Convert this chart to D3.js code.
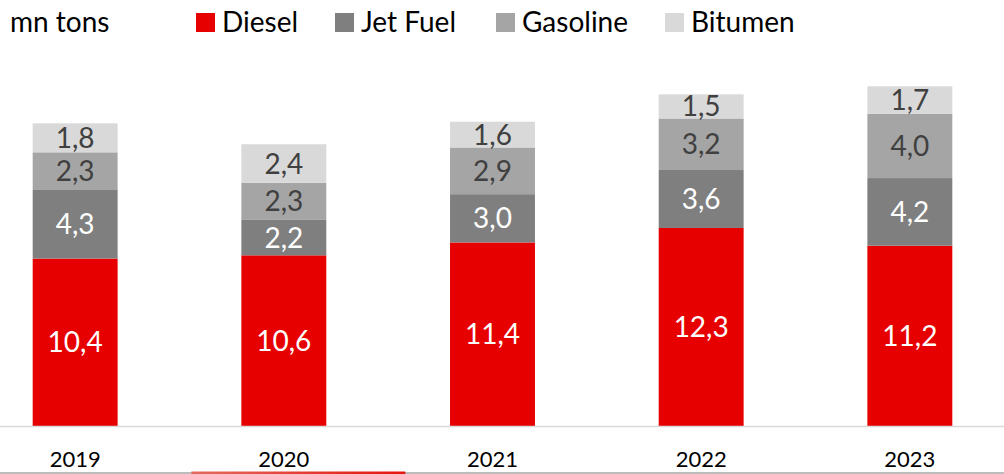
<!DOCTYPE html>
<html>
<head>
<meta charset="utf-8">
<script src="https://cdn.jsdelivr.net/npm/d3@7"></script>
<style>
  body { margin: 0; background: #fff; }
  svg text { font-family: Lato, "Open Sans", sans-serif; }
</style>
</head>
<body>
<div id="chart"></div>
<script>
// chart values
var years = ["2019", "2020", "2021", "2022", "2023"];
var products = ["Diesel", "Jet Fuel", "Gasoline", "Bitumen"];
var diesel   = [10.4, 10.6, 11.4, 12.3, 11.2];
var jetFuel  = [4.3, 2.2, 3.0, 3.6, 4.2];
var gasoline = [2.3, 2.3, 2.9, 3.2, 4.0];
var bitumen  = [1.8, 2.4, 1.6, 1.5, 1.7];
var unitLabel = "mn tons";

var colors = ["#e60000", "#7f7f7f", "#a5a5a5", "#d9d9d9"];
var labelColors = ["#ffffff", "#ffffff", "#404040", "#404040"];

var width = 1004, height = 474;
var baseline = 426;

// build rows for stacking
var rows = years.map(function(y, i) {
    return { year: y, "Diesel": diesel[i], "Jet Fuel": jetFuel[i],
             "Gasoline": gasoline[i], "Bitumen": bitumen[i] };
});
var series = d3.stack().keys(products)(rows);

var svg = d3.select("#chart")
  .append("svg")
    .attr("width", width)
    .attr("height", height);

var x = d3.scaleBand()
    .domain(years)
    .range([-8, 993])
    .paddingInner(0.593)
    .paddingOuter(0.195);

var y = d3.scaleLinear()
    .domain([0, 20])
    .range([baseline, baseline - 322]);

var fmt = function(v) { return d3.format(".1f")(v).replace(".", ","); };

// bars
var groups = svg.selectAll("g.layer")
  .data(series)
  .enter()
  .append("g")
    .attr("class", "layer")
    .attr("fill", function(d, i) { return colors[i]; });

groups.selectAll("rect")
  .data(function(d) { return d; })
  .enter()
  .append("rect")
    .attr("x", function(d) { return x(d.data.year); })
    .attr("y", function(d) { return y(d[1]); })
    .attr("width", x.bandwidth())
    .attr("height", function(d) { return y(d[0]) - y(d[1]); });

// value labels
series.forEach(function(s, i) {
    svg.append("g").selectAll("text")
      .data(s)
      .enter()
      .append("text")
        .attr("x", function(d) { return x(d.data.year) + x.bandwidth() / 2; })
        .attr("y", function(d) { return (y(d[0]) + y(d[1])) / 2; })
        .attr("dy", "0.36em")
        .attr("text-anchor", "middle")
        .attr("font-size", 28)
        .attr("fill", labelColors[i])
        .text(function(d) { return fmt(d[1] - d[0]); });
});

// baseline
svg.append("line")
    .attr("x1", 0).attr("x2", width)
    .attr("y1", baseline + 0.5).attr("y2", baseline + 0.5)
    .style("stroke", "#d9d9d9")
    .style("stroke-width", 1.5);

// x axis labels
var xAxis = svg.append("g")
    .attr("transform", "translate(0," + 451 + ")")
    .call(d3.axisBottom(x).tickSize(0).tickPadding(0));
xAxis.select(".domain").remove();
xAxis.selectAll("text")
    .attr("font-size", 22)
    .attr("fill", "#000")
    .attr("dy", "0.72em");

// bottom rule with red accent under 2020
svg.append("line")
    .attr("x1", 0).attr("x2", width)
    .attr("y1", 473).attr("y2", 473)
    .style("stroke", "#a6a6a6")
    .style("stroke-width", 1.5);

var grad = svg.append("defs").append("linearGradient")
    .attr("id", "accent");
grad.append("stop").attr("offset", "0%").attr("stop-color", "#e36b5f");
grad.append("stop").attr("offset", "100%").attr("stop-color", "#e4160d");
svg.append("rect")
    .attr("x", x("2020") - 50)
    .attr("y", 471.5)
    .attr("width", 214)
    .attr("height", 3)
    .attr("fill", "url(#accent)");

// unit label
svg.append("text")
    .attr("x", 10)
    .attr("y", 32)
    .attr("font-size", 28)
    .attr("fill", "#000")
    .text(unitLabel);

// legend
var legendX = [196, 335, 496, 665];
var legend = svg.selectAll("g.legend")
  .data(products)
  .enter()
  .append("g")
    .attr("class", "legend")
    .attr("transform", function(d, i) { return "translate(" + legendX[i] + ",13)"; });

legend.append("rect")
    .attr("width", 19)
    .attr("height", 19)
    .attr("fill", function(d, i) { return colors[i]; });

legend.append("text")
    .attr("x", 26)
    .attr("y", 19)
    .attr("font-size", 28)
    .attr("fill", "#000")
    .text(function(d) { return d; });
</script>
</body>
</html>
